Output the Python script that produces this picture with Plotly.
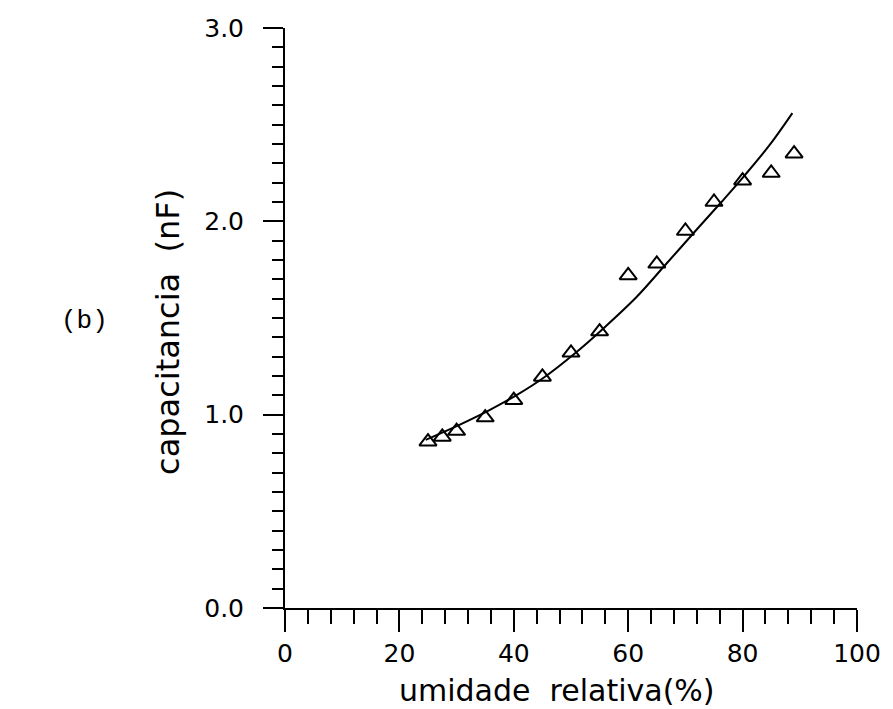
import plotly.graph_objects as go

# measured points
humidity = [25, 27.5, 30, 35, 40, 45, 50, 55, 60, 65, 70, 75, 80, 85, 89]
capacitance = [0.86, 0.885, 0.915, 0.985, 1.075, 1.195, 1.32, 1.43, 1.72, 1.78, 1.95, 2.10, 2.21, 2.25, 2.35]

# fitted curve
fit_x = [24.6, 30.3, 35.5, 40.7, 45.4, 50.6, 55.8, 61.5, 66.2, 71.9, 76.3, 80.0, 84.6, 88.7]
fit_y = [0.87, 0.945, 1.02, 1.105, 1.195, 1.315, 1.45, 1.61, 1.765, 1.955, 2.10, 2.225, 2.39, 2.56]

x_ticks = [0, 20, 40, 60, 80, 100]
y_ticks = [0.0, 1.0, 2.0, 3.0]
y_ticklabels = ["0.0", "1.0", "2.0", "3.0"]

FONT = "DejaVu Sans"

fig = go.Figure()
fig.add_trace(go.Scatter(x=fit_x, y=fit_y, mode="lines",
                         line=dict(color="black", width=2, shape="spline", smoothing=1.0),
                         showlegend=False))
fig.add_trace(go.Scatter(x=humidity, y=capacitance, mode="markers",
                         marker=dict(symbol="triangle-up-open", size=15, color="black",
                                     line=dict(color="black", width=2)),
                         showlegend=False))

fig.update_layout(
    width=893, height=709,
    margin=dict(l=285, r=31, t=28, b=101),
    paper_bgcolor="white", plot_bgcolor="white",
    font=dict(family=FONT, color="black", size=22),
    xaxis=dict(range=[0, 100], showgrid=False, zeroline=False,
               showline=True, linecolor="black", linewidth=2,
               tickmode="array", tickvals=x_ticks, ticktext=[str(v) for v in x_ticks],
               ticks="outside", ticklen=22, tickwidth=2, tickcolor="black",
               tickfont=dict(size=25, family=FONT),
               minor=dict(dtick=4, tick0=0, ticks="outside", ticklen=14,
                          tickwidth=2, tickcolor="black", showgrid=False)),
    yaxis=dict(range=[0, 3], showgrid=False, zeroline=False,
               showline=True, linecolor="black", linewidth=2,
               tickmode="array", tickvals=y_ticks, ticktext=y_ticklabels,
               ticks="outside", ticklen=20, tickwidth=2, tickcolor="black",
               tickfont=dict(size=25, family=FONT), ticklabelstandoff=14,
               minor=dict(dtick=0.1, tick0=0, ticks="outside", ticklen=11,
                          tickwidth=2, tickcolor="black", showgrid=False)),
    annotations=[
        dict(text="capacitancia  (nF)", xref="paper", yref="paper",
             x=-0.2045, y=0.476, xanchor="center", yanchor="middle",
             textangle=-90, showarrow=False, font=dict(size=32, family=FONT)),
        dict(text="umidade  relativa(%)", xref="paper", yref="paper",
             x=0.475, y=-0.142, xanchor="center", yanchor="middle",
             showarrow=False, font=dict(size=30, family=FONT)),
        dict(text="(b)", xref="paper", yref="paper",
             x=-0.351, y=0.494, xanchor="center", yanchor="middle",
             showarrow=False, font=dict(size=26, family="Liberation Mono")),
    ],
)

fig.write_html("out.html")
